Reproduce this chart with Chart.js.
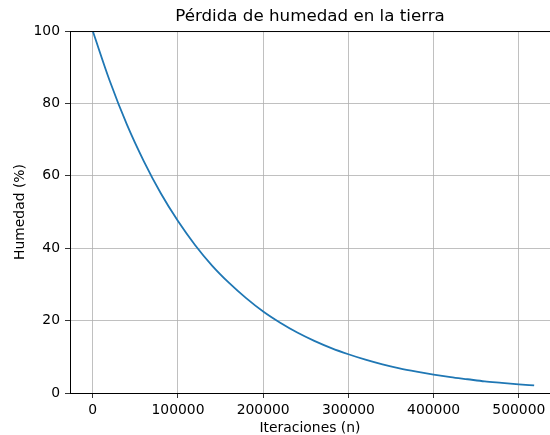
<!DOCTYPE html>
<html>
<head>
<meta charset="utf-8">
<script src="https://cdn.jsdelivr.net/npm/chart.js@4/dist/chart.umd.min.js"></script>
<style>
  html, body { margin: 0; padding: 0; background: #ffffff; }
  #humedadChart { display: block; }
</style>
</head>
<body>
<canvas id="humedadChart" width="550" height="435"></canvas>
<script>
// values
var iteraciones = [0, 20000, 40000, 60000, 80000, 100000, 120000, 140000, 160000, 180000,
  200000, 220000, 240000, 260000, 280000, 300000, 320000, 340000, 360000, 380000,
  400000, 420000, 440000, 460000, 480000, 500000, 518000];
var humedad = [100, 86.2, 74.2, 64.0, 55.1, 47.5, 40.9, 35.2, 30.4, 26.2,
  22.5, 19.4, 16.7, 14.4, 12.4, 10.7, 9.2, 7.9, 6.8, 5.9,
  5.1, 4.4, 3.8, 3.2, 2.8, 2.4, 2.1];
var xTicks = [0, 100000, 200000, 300000, 400000, 500000];
var yTicks = [0, 20, 40, 60, 80, 100];

const tituloChart = 'Pérdida de humedad en la tierra';
const tituloX = 'Iteraciones (n)';
const tituloY = 'Humedad (%)';

var puntos = [];
for (var i = 0; i < iteraciones.length; i++) {
  puntos.push({x: iteraciones[i], y: humedad[i]});
}

// draw the top spine like matplotlib does
const marcoPlugin = {
  id: 'marco',
  afterDraw(chart) {
    const ctx = chart.ctx;
    const a = chart.chartArea;
    ctx.save();
    ctx.strokeStyle = '#000000';
    ctx.lineWidth = 1;
    ctx.beginPath();
    ctx.moveTo(a.left, a.top + 0.5);
    ctx.lineTo(a.right, a.top + 0.5);
    ctx.stroke();
    ctx.restore();
  }
};

var tickFont = {family: 'DejaVu Sans', size: 13.9};

function fijarTicks(lista) {
  return function(s) { s.ticks = lista.map(function(v) { return {value: v}; }); };
}

var config = {
  type: 'scatter',
  data: {
    datasets: [{
      data: puntos,
      showLine: true,
      borderColor: '#1f77b4',
      backgroundColor: '#1f77b4',
      borderWidth: 1.8,
      pointRadius: 0,
      cubicInterpolationMode: 'monotone'
    }]
  },
  options: {
    responsive: false,
    animation: false,
    layout: { padding: {left: 0, right: 0, top: 0, bottom: 0} },
    plugins: {
      legend: { display: false },
      tooltip: { enabled: false },
      title: {
        display: true,
        text: tituloChart,
        fullSize: false,
        color: '#000000',
        font: {family: 'DejaVu Sans', size: 16.7, weight: 'normal'},
        padding: {top: 7, bottom: 4}
      }
    },
    scales: {
      x: {
        type: 'linear',
        min: -26700,
        max: 536600,
        afterFit: function(s) { s.height = 42; },
        afterBuildTicks: fijarTicks(xTicks),
        ticks: {
          autoSkip: false,
          color: '#000000',
          font: tickFont,
          padding: 4,
          maxRotation: 0,
          callback: function(v) { return String(v); }
        },
        grid: { color: '#b0b0b0', lineWidth: 0.8, tickColor: '#000000', tickLength: 5 },
        border: { color: '#000000', width: 1 },
        title: {
          display: true,
          text: tituloX,
          color: '#000000',
          font: tickFont,
          padding: {top: 0, bottom: -2}
        }
      },
      y: {
        type: 'linear',
        min: 0,
        max: 100,
        afterFit: function(s) { s.width = 70; },
        afterBuildTicks: fijarTicks(yTicks),
        ticks: {
          color: '#000000',
          font: tickFont,
          padding: 5
        },
        grid: { color: '#b0b0b0', lineWidth: 0.8, tickColor: '#000000', tickLength: 5 },
        border: { color: '#000000', width: 1 },
        title: {
          display: true,
          text: tituloY,
          color: '#000000',
          font: tickFont,
          padding: {top: 12, bottom: 0}
        }
      }
    }
  },
  plugins: [marcoPlugin]
};

var humedadChart = new Chart(document.getElementById('humedadChart'), config);
</script>
</body>
</html>
